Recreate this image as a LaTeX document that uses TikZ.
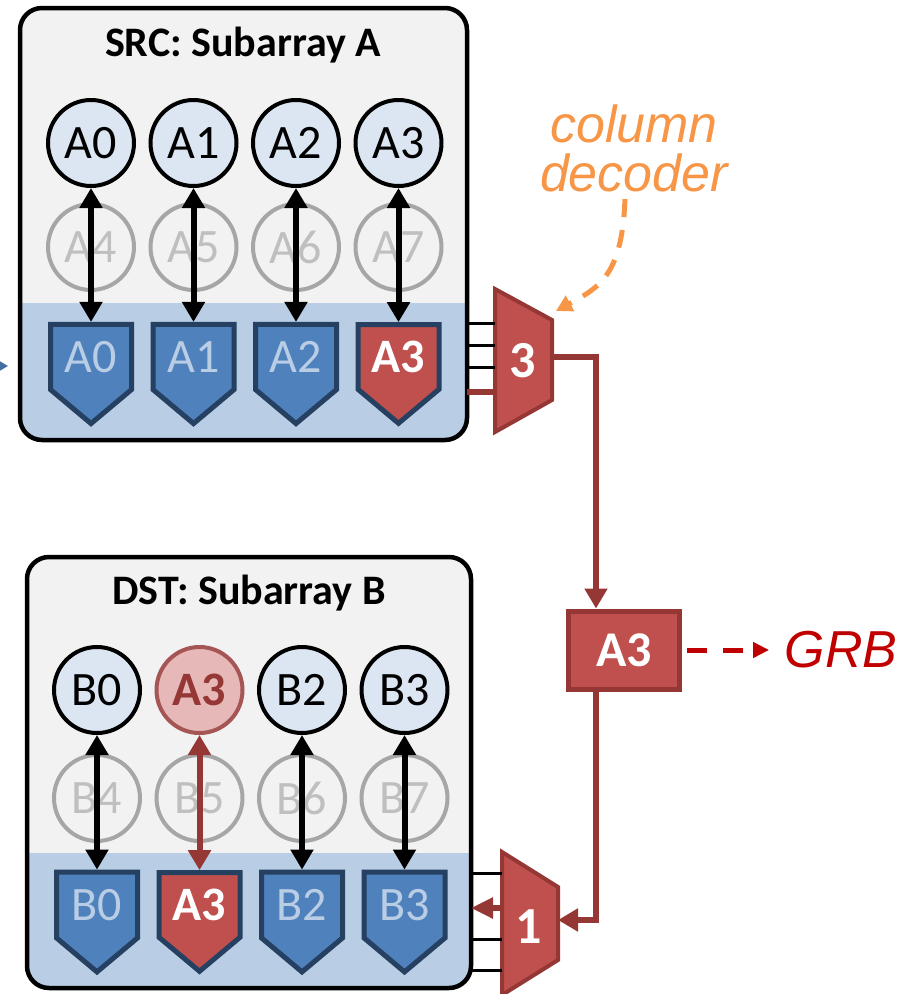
\documentclass[tikz,border=0pt]{standalone}
\usepackage{fontspec}
\setmainfont{Carlito}
\newfontfamily\arialfont{Liberation Sans}
\usetikzlibrary{arrows.meta,positioning,shapes.symbols,calc}

\definecolor{boxgray}{HTML}{F2F2F2}
\definecolor{bandblue}{HTML}{B9CDE5}
\definecolor{cellfill}{HTML}{DCE6F2}
\definecolor{ghostgray}{HTML}{A6A6A6}
\definecolor{ghosttext}{HTML}{BFBFBF}
\definecolor{safill}{HTML}{4F81BD}
\definecolor{saborder}{HTML}{254061}
\definecolor{redfill}{HTML}{C0504D}
\definecolor{redline}{HTML}{953735}
\definecolor{pinkfill}{HTML}{E6B9B8}
\definecolor{decoder}{HTML}{F79646}
\definecolor{grbred}{HTML}{C00000}

\newcommand{\fsz}[1]{\fontsize{#1}{#1}\selectfont}

\begin{document}
\begin{tikzpicture}[x=1pt,y=-1pt,>={Triangle[width=22pt,length=20pt]},
node distance=102.5pt,
array box/.style={rectangle,rounded corners=22pt,fill=boxgray,outer sep=0pt,inner sep=0pt},
title node/.style={font=\fsz{42}\bfseries},
cell node/.style={circle,draw,line width=4pt,fill=cellfill,minimum size=86pt,inner sep=0pt,font=\fsz{48}},
ghost node/.style={circle,draw=ghostgray,line width=4pt,minimum size=86pt,inner sep=0pt,text=ghosttext,font=\fsz{48}},
moved node/.style={cell node,draw=redline!85,fill=pinkfill,text=redline,font=\fsz{48}\bfseries},
sense node/.style={signal,signal to=south,signal pointer angle=100,draw=saborder,line width=5pt,fill=safill,text=bandblue,minimum width=81pt,minimum height=87pt,inner sep=0pt,font=\fsz{48}},
hot sense/.style={sense node,fill=redfill,text=white,font=\fsz{48}\bfseries},
mux/.style={draw=redline,line width=4pt,fill=redfill,line join=miter},
mux label/.style={text=white,font=\fsz{52}\bfseries},
buffer/.style={rectangle,draw=redline,line width=5pt,fill=redfill,text=white,minimum width=111pt,minimum height=78pt,font=\fsz{50}\bfseries},
bit line/.style={<->,line width=6pt},
bus/.style={line width=3pt},
red wire/.style={line width=6pt,draw=redline,line join=miter},
note/.style={font=\arialfont\itshape\fsz{52},align=center}]

\useasboundingbox (0,0) rectangle (901,994);

% subarray boxes
\node[array box,minimum width=447pt,minimum height=432pt] (src) at (243.5,224) {};
\node[array box,minimum width=444pt,minimum height=431pt] (dst) at (249,772.5) {};
\begin{scope}
\clip[rounded corners=22pt] (src.north west) rectangle (src.south east);
\fill[bandblue] (src.west |- 0,303) rectangle (src.south east);
\end{scope}
\begin{scope}
\clip[rounded corners=22pt] (dst.north west) rectangle (dst.south east);
\fill[bandblue] (dst.west |- 0,853) rectangle (dst.south east);
\end{scope}
\draw[line width=4.5pt,rounded corners=22pt] (src.north west) rectangle (src.south east);
\draw[line width=4.5pt,rounded corners=22pt] (dst.north west) rectangle (dst.south east);

\node[title node] (srctitle) at (243,45) {SRC: Subarray A};
\node[title node] (dsttitle) at (249,593) {DST: Subarray B};

% source rows
\node[cell node] (a0) at (91,143) {A0};
\node[cell node,right of=a0] (a1) {A1};
\node[cell node,right of=a1] (a2) {A2};
\node[cell node,right of=a2] (a3) {A3};
\node[ghost node] (a4) at (91,247) {A4};
\node[ghost node,right of=a4] (a5) {A5};
\node[ghost node,right of=a5] (a6) {A6};
\node[ghost node,right of=a6] (a7) {A7};
\node[sense node] (sa0) at (91,357) {A0};
\node[sense node,right of=sa0] (sa1) {A1};
\node[sense node,right of=sa1] (sa2) {A2};
\node[hot sense,right of=sa2] (sa3) {A3};

\path[bit line]
(a0) edge (sa0)
(a1) edge (sa1)
(a2) edge (sa2)
(a3) edge (sa3);

% destination rows
\node[cell node] (b0) at (97,690) {B0};
\node[moved node,right of=b0] (b1) {A3};
\node[cell node,right of=b1] (b2) {B2};
\node[cell node,right of=b2] (b3) {B3};
\node[ghost node] (b4) at (97,798) {B4};
\node[ghost node,right of=b4] (b5) {B5};
\node[ghost node,right of=b5] (b6) {B6};
\node[ghost node,right of=b6] (b7) {B7};
\node[sense node] (sb0) at (97,905) {B0};
\node[hot sense,right of=sb0] (sb1) {A3};
\node[sense node,right of=sb1] (sb2) {B2};
\node[sense node,right of=sb2] (sb3) {B3};

\path[bit line]
(b0) edge (sb0)
(b1) edge[redline] (sb1)
(b2) edge (sb2)
(b3) edge (sb3);

% column muxes
\coordinate (m3tl) at (495,289);
\coordinate (m3tr) at (552,320);
\coordinate (m3br) at (552,400);
\coordinate (m3bl) at (495,432);
\filldraw[mux] (m3tl) -- (m3tr) -- (m3br) -- (m3bl) -- cycle;
\node[mux label] (mux3) at (523,361) {3};

\coordinate (m1tl) at (502,852);
\coordinate (m1tr) at (558,887);
\coordinate (m1br) at (558,960);
\coordinate (m1bl) at (502,995);
\filldraw[mux] (m1tl) -- (m1tr) -- (m1br) -- (m1bl) -- cycle;
\node[mux label] (mux1) at (529,927) {1};

\foreach \y in {323,345,367}
  \draw[bus] (src.east |- 0,\y) -- (m3tl |- 0,\y);
\draw[red wire] (src.east |- 0,392) -- (m3tl |- 0,392);

\foreach \y in {873,939,970}
  \draw[bus] (dst.east |- 0,\y) -- (m1tl |- 0,\y);
\draw[red wire,->,>={Triangle[width=20pt,length=22pt]}] (m1tl |- 0,908) -- (dst.east |- 0,908);

% global row buffer path
\node[buffer] (buf) at (624,650) {A3};
\node[note,text=grbred] (grb) at (841,650) {GRB};
\coordinate (bend) at (596,357);
\draw[red wire,->] (m3tr |- bend) -- (bend) -- (bend |- buf.north);
\draw[red wire,->] (bend |- buf.south) -- (bend |- 0,920) -- (m1tr |- 0,920);
\draw[grbred,line width=5pt,dash pattern=on 20pt off 16pt,-{Triangle[width=15pt,length=16pt]},shorten <=5pt,shorten >=12pt] (buf) -- (grb);

% decoder note
\node[note,text=decoder] (coldec) at (634,148) {column\\[-3pt]decoder};
\coordinate (cdtip) at (556,311);
\draw[decoder,line width=5pt,dash pattern=on 18pt off 13pt,-{Triangle[width=17pt,length=16pt]}]
([xshift=-9pt,yshift=-4pt]coldec.south) .. controls (622,275) and (600,287) .. (cdtip);

% incoming link at left edge
\coordinate (inl) at (-14,366);
\coordinate (inr) at (8,366);
\draw[safill!85!black,line width=3pt,-{Triangle[width=10pt,length=9pt]}] (inl) -- (inr);

\end{tikzpicture}
\end{document}
